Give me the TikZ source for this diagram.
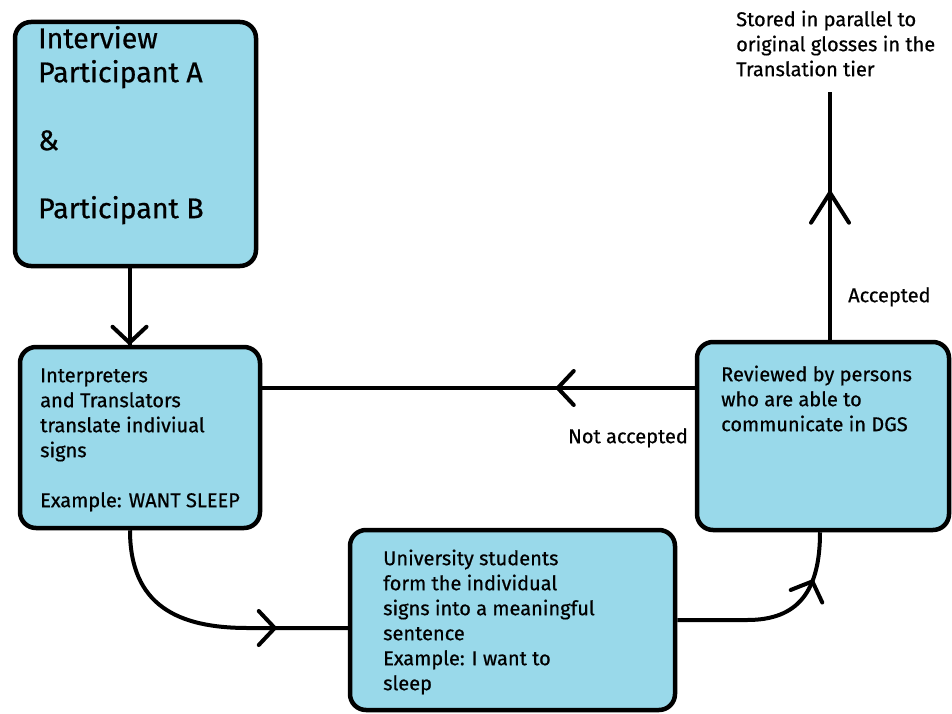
\documentclass[tikz,border=0pt]{standalone}
\usepackage{fontspec}
\setmainfont{Fira Sans}[FakeBold=0.6]
\usetikzlibrary{decorations.markings,calc}
\definecolor{boxblue}{RGB}{153,217,234}
\tikzset{
  boxnode/.style={draw=black, line width=4.5pt, fill=boxblue, rounded corners=16pt, rectangle, inner sep=0pt},
  conn/.style={draw=black, line width=4pt},
  txt/.style={anchor=north west, inner sep=0pt, align=left, font=\fontsize{20}{25}\selectfont},
  bigtxt/.style={anchor=north west, inner sep=0pt, align=left, font=\fontsize{28.5}{34}\selectfont},
  chev/.style={postaction={decorate, decoration={markings, mark=at position #1 with {\draw[line width=4pt, line cap=round, line join=miter] (-16pt,17pt) -- (0pt,0pt) -- (-16pt,-17pt);}}}},
  chevlong/.style={postaction={decorate, decoration={markings, mark=at position #1 with {\draw[line width=4pt, line cap=round, line join=miter] (-30pt,19pt) -- (0pt,0pt) -- (-30pt,-19pt);}}}}
}
\begin{document}
\begin{tikzpicture}[x=1pt, y=-1pt]
\useasboundingbox (0,0) rectangle (952,714);
% boxes
\node[boxnode, minimum width=241pt, minimum height=244pt] (A) at (135.5,144) {};
\node[boxnode, minimum width=240pt, minimum height=181pt] (B) at (140,437.5) {};
\node[boxnode, minimum width=325pt, minimum height=180pt] (C) at (512.5,620) {};
\node[boxnode, minimum width=252pt, minimum height=188pt] (D) at (823,436) {};
% texts
\node[bigtxt] (tA) at (38,24.2) {\strut Interview\\Participant A\\[34pt]\&\\[34pt]Participant B};
\node[txt] (tB) at (40,364.5) {\strut Interpreters\\and Translators\\translate indiviual\\signs\\[25pt]Example: WANT SLEEP};
\node[txt] (tC) at (383,547.5) {\strut University students\\form the individual\\signs into a meaningful\\sentence\\Example: I want to\\sleep};
\node[txt] (tD) at (721,363.5) {\strut Reviewed by persons\\who are able to\\communicate in DGS};
\node[txt] (tS) at (736,8.5) {\strut Stored in parallel to\\original glosses in the\\Translation tier};
\node[txt] (lAcc) at (848,284.5) {\strut Accepted};
\node[txt] (lNot) at (568,425.5) {\strut Not accepted};
\coordinate (st) at (830,92);
% connectors
\draw[conn, chev=-2pt] ([xshift=-6pt]A.south) -- ([xshift=-6pt]A.south |- B.north);
\draw[conn, chev=137pt] ([yshift=48pt]D.west) coordinate (dw) -- (dw -| B.east);
\draw[conn, chevlong=147pt] ([xshift=7pt]D.north) -- (st);
\draw[conn, chev=-73pt] ([xshift=-10pt]B.south) .. controls +(0pt,-75pt) and +(-70pt,0pt) .. ([xshift=-100pt,yshift=-8pt]C.west) -- ([yshift=-8pt]C.west);
\draw[conn, chev=-50pt] (C.east) -- ++(70pt,0pt) .. controls +(50pt,0pt) and +(0pt,-60pt) .. ([xshift=-3pt]D.south);
\end{tikzpicture}
\end{document}
